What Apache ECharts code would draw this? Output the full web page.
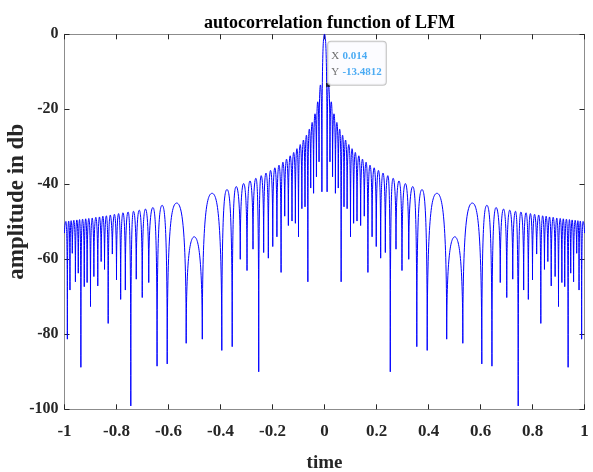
<!DOCTYPE html>
<html>
<head>
<meta charset="utf-8">
<title>autocorrelation function of LFM</title>
<script src="https://cdn.jsdelivr.net/npm/echarts@6/dist/echarts.min.js"></script>
<style>
  html, body { margin: 0; padding: 0; background: #fff; }
  #chart { width: 593px; height: 472px; }
</style>
</head>
<body>
<div id="chart"></div>
<script>
// right half only (t >= 0) - the trace is mirrored about t = 0
// null positions of the sidelobes, last entry is the right edge of the plot
const nullTimes = [0.010, 0.021, 0.031, 0.042, 0.053, 0.064, 0.075, 0.087, 0.100, 0.112,
  0.125, 0.139, 0.153, 0.167, 0.183, 0.199, 0.216, 0.234, 0.253, 0.275,
  0.298, 0.324, 0.355, 0.395, 0.470, 0.532, 0.605, 0.644, 0.676, 0.701,
  0.724, 0.745, 0.766, 0.784, 0.800, 0.816, 0.832, 0.846, 0.859, 0.872,
  0.887, 0.900, 0.913, 0.924, 0.937, 0.947, 0.958, 0.970, 0.979, 0.989, 1.0];
// depth of the curve at each of those nulls (dB)
const nullDepths = [-42, -34, -38, -42.4, -41, -66, -46, -46.5, -54, -50.4,
  -49.8, -51, -48.5, -63.5, -54, -56.6, -59.7, -58.2, -90, -57.3,
  -63, -60, -83.3, -84.3, -81.3, -82.4, -87.9, -88.5, -66.2, -70.2,
  -65.3, -99.1, -68.2, -70.7, -65.5, -58.6, -77.1, -62.7, -60.6, -67.1,
  -64.6, -72.6, -66.2, -67.3, -88.8, -63.7, -66, -58.4, -68.2, -81.3, -53];
// top of each sidelobe between two neighbouring nulls (dB)
const lobePeaks = [-13.5, -18, -21.2, -23.5, -25.3, -26.9, -28.2, -29.4, -30.5, -31.5,
  -32.4, -33.3, -34.1, -34.9, -35.6, -36.3, -37.0, -37.7, -38.4, -39.1,
  -39.8, -40.6, -41.4, -42.4, -54, -45, -45.6, -46.2, -46.6, -46.9,
  -47.2, -47.4, -47.6, -47.8, -48.0, -48.2, -48.4, -48.5, -48.7, -48.8,
  -49.0, -49.1, -49.2, -49.3, -49.4, -49.5, -49.6, -49.7, -49.8, -49.9];
const mainPeak = 0;

// data tip shown in the figure
const tipX = 0.014;
const tipY = -13.4812;

const xTicks = [-1, -0.8, -0.6, -0.4, -0.2, 0, 0.2, 0.4, 0.6, 0.8, 1];
const yTicks = [-100, -80, -60, -40, -20, 0];
const xStep = 0.2;
const yStep = 20;

// one item per lobe: [tStart, tEnd, peak, depthStart, depthEnd]
const lobes = [[-nullTimes[0], nullTimes[0], mainPeak, nullDepths[0], nullDepths[0]]];
for (let i = 1; i < nullTimes.length; i++) {
  const a = nullTimes[i - 1], b = nullTimes[i], p = lobePeaks[i - 1];
  lobes.push([a, b, p, nullDepths[i - 1], nullDepths[i]]);
  lobes.push([-b, -a, p, nullDepths[i], nullDepths[i - 1]]);
}

const FONT = 'Liberation Serif, Times New Roman, serif';

function lineStyle() {
  return { stroke: '#0000ff', lineWidth: 1, fill: null };
}

// rounded lobe top, steep drop into each null
function renderLobe(params, api) {
  const t0 = api.value(0), t1 = api.value(1), peak = api.value(2);
  const d0 = api.value(3), d1 = api.value(4);
  const p0 = api.coord([t0, d0]);
  const pm = api.coord([(t0 + t1) / 2, peak]);
  const p1 = api.coord([t1, d1]);
  const knee0 = api.coord([t0, peak - Math.min(6, (peak - d0) * 0.6)])[1];
  const knee1 = api.coord([t1, peak - Math.min(6, (peak - d1) * 0.6)])[1];
  return {
    type: 'group',
    children: [
      { type: 'bezierCurve', style: lineStyle(), shape: {
        x1: p0[0], y1: p0[1], cpx1: p0[0], cpy1: knee0,
        cpx2: pm[0] - 0.55 * (pm[0] - p0[0]), cpy2: pm[1], x2: pm[0], y2: pm[1] } },
      { type: 'bezierCurve', style: lineStyle(), shape: {
        x1: pm[0], y1: pm[1], cpx1: pm[0] + 0.55 * (p1[0] - pm[0]), cpy1: pm[1],
        cpx2: p1[0], cpy2: knee1, x2: p1[0], y2: p1[1] } }
    ]
  };
}

function axisCommon(show, size, margin) {
  return {
    axisLine: { show: true, onZero: false, lineStyle: { color: '#8c8c8c', width: 1 } },
    axisTick: { show: true, inside: true, length: 5, lineStyle: { color: '#262626' } },
    axisLabel: { show: show, fontFamily: FONT, fontWeight: 'bold', fontSize: size, color: '#262626', margin: margin },
    splitLine: { show: false }
  };
}

const chart = echarts.init(document.getElementById('chart'));
chart.setOption({
  animation: false,
  backgroundColor: '#fff',
  title: {
    text: 'autocorrelation function of LFM',
    left: 324.5,
    textAlign: 'center',
    top: 9,
    textStyle: { fontFamily: FONT, fontWeight: 'bold', fontSize: 18, color: '#000' }
  },
  grid: { left: 64.5, right: 8.5, top: 34.3, bottom: 62.7, containLabel: false, outerBoundsMode: 'none' },
  xAxis: [
    Object.assign({
      type: 'value', position: 'bottom',
      min: xTicks[0], max: xTicks[xTicks.length - 1], interval: xStep,
      name: 'time', nameLocation: 'middle', nameGap: 44,
      nameTextStyle: { fontFamily: FONT, fontWeight: 'bold', fontSize: 19, color: '#262626' }
    }, axisCommon(true, 17, 14)),
    Object.assign({
      type: 'value', position: 'top',
      min: xTicks[0], max: xTicks[xTicks.length - 1], interval: xStep
    }, axisCommon(false, 17, 14))
  ],
  yAxis: [
    Object.assign({
      type: 'value', position: 'left',
      min: yTicks[0], max: yTicks[yTicks.length - 1], interval: yStep,
      name: 'amplitude in db', nameLocation: 'middle', nameGap: 36, nameMoveOverlap: false,
      nameTextStyle: { fontFamily: FONT, fontWeight: 'bold', fontSize: 23, color: '#262626',
        padding: [0, 0, 0, 40] }
    }, axisCommon(true, 16, 6)),
    Object.assign({
      type: 'value', position: 'right',
      min: yTicks[0], max: yTicks[yTicks.length - 1], interval: yStep
    }, axisCommon(false, 16, 6))
  ],
  series: [
    {
      type: 'custom',
      silent: true,
      xAxisIndex: 0,
      yAxisIndex: 0,
      renderItem: renderLobe,
      encode: { x: [0, 1], y: [2, 3, 4] },
      data: lobes
    },
    {
      type: 'scatter',
      silent: true,
      xAxisIndex: 0,
      yAxisIndex: 0,
      symbol: 'rect',
      symbolSize: 4,
      itemStyle: { color: '#000' },
      emphasis: { disabled: true },
      data: [[tipX, tipY]],
      label: {
        show: true,
        position: [2, 2],
        align: 'left',
        verticalAlign: 'bottom',
        formatter: '{k|X} {v|' + tipX + '}\n{k|Y} {v|' + tipY + '}',
        backgroundColor: '#fbfbff',
        borderColor: '#b4b4b4',
        borderWidth: 1,
        borderRadius: 3,
        padding: [6, 4, 5, 3],
        rich: {
          k: { fontFamily: FONT, fontSize: 11, lineHeight: 16, color: '#4a4a4a' },
          v: { fontFamily: FONT, fontSize: 11, lineHeight: 16, fontWeight: 'bold', color: '#1e96f0' }
        }
      }
    }
  ]
});
window.addEventListener('resize', function () {
  chart.resize();
});
</script>
</body>
</html>
